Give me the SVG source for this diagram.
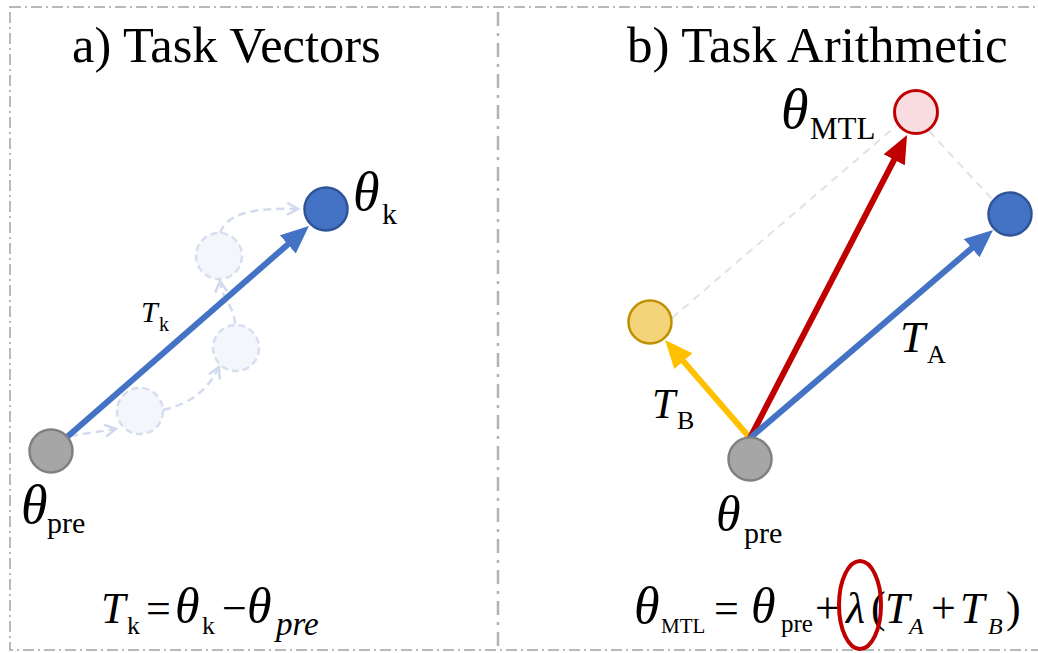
<svg xmlns="http://www.w3.org/2000/svg" width="1038" height="653" viewBox="0 0 1038 653">
<style>
.serif{font-family:"Liberation Serif","Times New Roman",serif;fill:#000}
.it{font-style:italic}
.frame{fill:none;stroke:#a3a3a3;stroke-width:1.5;stroke-dasharray:11 4 2 4}
.divider{stroke:#b3b3b3;stroke-width:2.5;stroke-dasharray:14 7 3 7}
.ghost{fill:#f4f6fc;stroke:#d6deef;stroke-width:2.5;stroke-dasharray:7 4}
.gline{fill:none;stroke:#d3dbef;stroke-width:2.5;stroke-dasharray:8 5}
.guide{fill:none;stroke:#e2e2e2;stroke-width:2;stroke-dasharray:8 6}
.arr{fill:none;stroke-width:6}
.gray{fill:#a6a6a6;stroke:#808080;stroke-width:2.5}
.blue{fill:#4472c4;stroke:#2f5597;stroke-width:2.5}
.red{fill:#f9dce0;stroke:#c00000;stroke-width:3}
.yellow{fill:#f4d47a;stroke:#bf9000;stroke-width:2.5}
</style>
<defs>
<marker id="ah-blue" markerUnits="userSpaceOnUse" markerWidth="30" markerHeight="26" refX="14" refY="12" orient="auto"><path d="M0,0 L28,12 L0,24 z" fill="#4472c4"/></marker>
<marker id="ah-red" markerUnits="userSpaceOnUse" markerWidth="30" markerHeight="26" refX="14" refY="12" orient="auto"><path d="M0,0 L28,12 L0,24 z" fill="#c00000"/></marker>
<marker id="ah-yellow" markerUnits="userSpaceOnUse" markerWidth="30" markerHeight="26" refX="14" refY="12" orient="auto"><path d="M0,0 L28,12 L0,24 z" fill="#ffc000"/></marker>
<marker id="ah-ghost" markerUnits="userSpaceOnUse" markerWidth="16" markerHeight="16" refX="12" refY="7" orient="auto"><path d="M1,1 L12,7 L1,13" fill="none" stroke="#d0d9ee" stroke-width="2.5"/></marker>
</defs>
<rect width="1038" height="653" fill="#fff"/>
<g id="frame">
<rect class="frame" x="10" y="7" width="1045" height="643"/>
<line class="divider" x1="498" y1="12" x2="498" y2="646"/>
</g>
<g id="titles">
<text class="serif" x="72" y="62" font-size="50.5">a) Task Vectors</text>
<text class="serif" x="627" y="62" font-size="51">b) Task Arithmetic</text>
</g>
<g id="ghost-steps">
<circle class="ghost" cx="140" cy="411" r="23"/>
<circle class="ghost" cx="236" cy="348" r="23"/>
<circle class="ghost" cx="219" cy="256" r="23"/>
</g>
<g id="connectors">
<path class="gline" d="M70,436 L116,429" marker-end="url(#ah-ghost)"/>
<path class="gline" d="M163,410 C190,404 208,390 219,367" marker-end="url(#ah-ghost)"/>
<path class="gline" d="M235,324 C234,305 222,300 220,281" marker-end="url(#ah-ghost)"/>
<path class="gline" d="M220,233 C228,212 255,208 298,209" marker-end="url(#ah-ghost)"/>
<line class="arr" x1="51" y1="451" x2="298.4" y2="235.2" stroke="#4472c4" marker-end="url(#ah-blue)"/>
<line class="guide" x1="672" y1="318" x2="896" y2="126"/>
<line class="guide" x1="929" y1="131" x2="992" y2="199"/>
<line class="arr" x1="750" y1="438" x2="674.2" y2="350.6" stroke="#ffc000" marker-end="url(#ah-yellow)"/>
<line class="arr" x1="750" y1="438" x2="900.6" y2="147.4" stroke="#c00000" marker-end="url(#ah-red)"/>
<line class="arr" x1="750" y1="438" x2="982.4" y2="239.1" stroke="#4472c4" marker-end="url(#ah-blue)"/>
</g>
<g id="node-pre-a">
<circle class="gray" cx="51" cy="451" r="21.5"/>
<text class="serif it" x="21" y="523" font-size="54">θ</text>
<text class="serif" x="47" y="533" font-size="30">pre</text>
</g>
<g id="node-k">
<circle class="blue" cx="326" cy="209" r="21.5"/>
<text class="serif it" x="353" y="210" font-size="54">θ</text>
<text class="serif" x="382" y="224" font-size="30">k</text>
</g>
<g id="label-Tk">
<text class="serif it" x="141" y="322" font-size="30">T</text>
<text class="serif" x="159" y="331" font-size="20">k</text>
</g>
<g id="node-pre-b">
<circle class="gray" cx="750" cy="459" r="21.5"/>
<text class="serif it" x="716" y="531" font-size="50">θ</text>
<text class="serif" x="744" y="543" font-size="30">pre</text>
</g>
<g id="node-B">
<circle class="yellow" cx="650" cy="322" r="21.5"/>
<text class="serif it" x="652" y="418" font-size="42">T</text>
<text class="serif" x="677" y="429" font-size="26">B</text>
</g>
<g id="node-MTL">
<circle class="red" cx="916" cy="112" r="21.5"/>
<text class="serif it" x="781" y="128" font-size="56">θ</text>
<text class="serif" x="810" y="139" font-size="31">MTL</text>
</g>
<g id="node-A">
<circle class="blue" cx="1010" cy="214" r="21.5"/>
<text class="serif it" x="900" y="352" font-size="45">T</text>
<text class="serif" x="927" y="363" font-size="26">A</text>
</g>
<g id="formula-a">
<text class="serif it" x="101" y="623" font-size="44">T</text>
<text class="serif" x="127" y="634" font-size="26">k</text>
<text class="serif" x="146" y="623" font-size="44">=</text>
<text class="serif it" x="175" y="623" font-size="50">θ</text>
<text class="serif" x="202" y="634" font-size="26">k</text>
<text class="serif" x="222" y="623" font-size="44">−</text>
<text class="serif it" x="247" y="623" font-size="50">θ</text>
<text class="serif it" x="276" y="635" font-size="33">pre</text>
</g>
<g id="formula-b">
<text class="serif it" x="634" y="623" font-size="52">θ</text>
<text class="serif" x="661" y="633" font-size="21">MTL</text>
<text class="serif" x="714" y="623" font-size="44">=</text>
<text class="serif it" x="751" y="623" font-size="50">θ</text>
<text class="serif" x="781" y="632" font-size="25">pre</text>
<text class="serif" x="815" y="623" font-size="44">+</text>
<text class="serif it" x="846" y="623" font-size="44">λ</text>
<text class="serif" x="871" y="622" font-size="44">(</text>
<text class="serif it" x="885" y="623" font-size="44">T</text>
<text class="serif it" x="909" y="634" font-size="24">A</text>
<text class="serif" x="931" y="623" font-size="44">+</text>
<text class="serif it" x="960" y="623" font-size="44">T</text>
<text class="serif it" x="988" y="634" font-size="24">B</text>
<text class="serif" x="1006" y="622" font-size="44">)</text>
<ellipse cx="860" cy="605" rx="21" ry="44" fill="none" stroke="#c00000" stroke-width="4"/>
</g>
</svg>
